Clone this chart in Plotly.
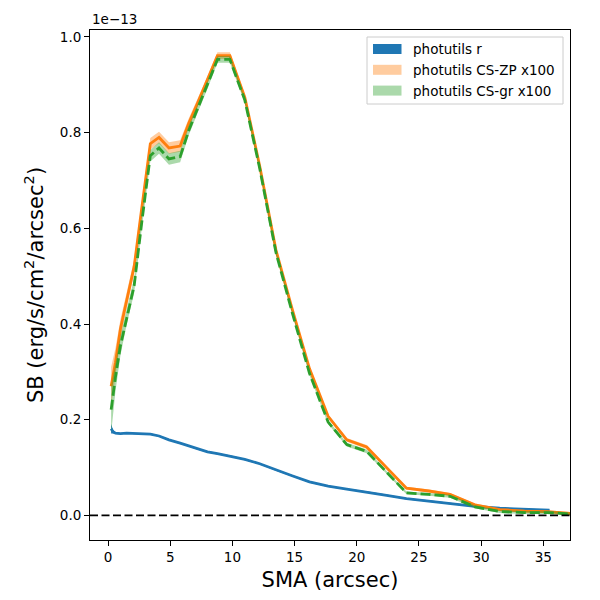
import numpy as np
import plotly.graph_objects as go

# SB values in units of 1e-13 erg/s/cm^2/arcsec^2
sma = [0.25, 0.6, 1.0, 1.5, 2.1, 2.7, 3.4, 4.1, 4.9, 5.8, 6.5, 7.2, 8.0, 8.8, 9.8,
       11.0, 12.2, 13.5, 14.8, 16.2, 17.7, 19.2, 20.8, 22.4, 24.0, 25.8, 27.5,
       29.5, 31.5, 33.5, 35.3, 37.15]
sb_zp = [0.27, 0.32, 0.39, 0.45, 0.52, 0.64, 0.777, 0.790, 0.768, 0.772, 0.82, 0.862,
         0.91, 0.961, 0.961, 0.874, 0.73, 0.555, 0.432, 0.307, 0.207, 0.158, 0.143,
         0.10, 0.057, 0.051, 0.044, 0.022, 0.012, 0.009, 0.008, 0.004]
err_zp = [0.04, 0.03, 0.02, 0.016, 0.015, 0.013, 0.012, 0.012, 0.012, 0.012, 0.01, 0.009,
          0.008, 0.007, 0.007, 0.006, 0.005, 0.005, 0.004, 0.004, 0.004, 0.004, 0.004,
          0.003, 0.003, 0.003, 0.003, 0.003, 0.003, 0.003, 0.003, 0.003]
sb_gr = [0.221, 0.29, 0.355, 0.415, 0.48, 0.61, 0.752, 0.768, 0.745, 0.750, 0.805, 0.85,
         0.90, 0.953, 0.953, 0.868, 0.725, 0.55, 0.425, 0.297, 0.195, 0.148, 0.134,
         0.09, 0.047, 0.044, 0.040, 0.018, 0.008, 0.006, 0.006, 0.003]
err_gr = [0.05, 0.03, 0.02, 0.016, 0.015, 0.013, 0.012, 0.012, 0.012, 0.012, 0.01, 0.009,
          0.008, 0.007, 0.007, 0.006, 0.005, 0.005, 0.004, 0.004, 0.004, 0.004, 0.004,
          0.003, 0.003, 0.003, 0.003, 0.003, 0.003, 0.003, 0.003, 0.003]

sma_r = [0.25, 0.4, 0.6, 1.0, 1.5, 2.1, 2.7, 3.4, 4.1, 4.9, 5.8, 6.5, 7.2, 8.0, 8.8,
         9.8, 11.0, 12.2, 13.5, 14.8, 16.2, 17.7, 19.2, 20.8, 22.4, 24.0, 25.8, 27.5,
         29.5, 31.5, 33.5, 35.5]
sb_r = [0.181, 0.175, 0.172, 0.171, 0.172, 0.171, 0.171, 0.170, 0.166, 0.158, 0.151,
        0.145, 0.139, 0.133, 0.129, 0.124, 0.117, 0.108, 0.095, 0.083, 0.070, 0.061,
        0.055, 0.049, 0.042, 0.035, 0.030, 0.025, 0.019, 0.015, 0.013, 0.011]
err_r = [0.01, 0.004, 0.002, 0.0015, 0.0015, 0.0015, 0.0015, 0.0015, 0.0015, 0.0015,
         0.0015, 0.0015, 0.0015, 0.0015, 0.0015, 0.0015, 0.0015, 0.0015, 0.0015, 0.0015,
         0.0015, 0.0015, 0.0015, 0.0015, 0.0015, 0.0015, 0.0015, 0.0015, 0.0015, 0.0015,
         0.0015, 0.0015]

series = [
    ("photutils r", sma_r, sb_r, err_r, "#1f77b4", "#1f77b4", "solid"),
    ("photutils CS-ZP x100", sma, sb_zp, err_zp, "#ff7f0e", "rgba(255,127,14,0.4)", "solid"),
    ("photutils CS-gr x100", sma, sb_gr, err_gr, "#2ca02c", "rgba(44,160,44,0.4)", "10px,4px"),
]

# 绘图区像素位置 (600x600)
L, R, T, B = 90, 570, 30, 540


def px(xp):
    return (xp - L) / (R - L)


def py(yp):
    return (B - yp) / (B - T)


fig = go.Figure()
for name, x, y, e, col, fcol, dash in series:
    x = np.array(x)
    y = np.array(y)
    e = np.array(e)
    # 误差带
    fig.add_trace(go.Scatter(
        x=np.concatenate([x, x[::-1]]),
        y=np.concatenate([y + e, (y - e)[::-1]]),
        fill="toself", fillcolor=fcol, mode="none", name=name,
        showlegend=False, hoverinfo="skip"))
    fig.add_trace(go.Scatter(
        x=x, y=y, mode="lines", showlegend=False,
        line=dict(color=col, width=2.8, dash=dash)))

fig.add_shape(type="line", xref="paper", x0=0, x1=1, yref="y", y0=0, y1=0,
              line=dict(color="black", width=1.8, dash="8px,3.5px"))

# 图例 (手动绘制, 色块样式同 matplotlib)
fig.add_shape(type="rect", xref="paper", yref="paper",
              x0=px(367), x1=px(563), y0=py(104), y1=py(37),
              line=dict(color="#cccccc", width=1), fillcolor="rgba(255,255,255,0.8)")
for i, (name, *_rest) in enumerate(series):
    fcol = series[i][5]
    yc = 49 + i * 20.8
    fig.add_shape(type="rect", xref="paper", yref="paper",
                  x0=px(373), x1=px(401.5), y0=py(yc + 5), y1=py(yc - 5),
                  line=dict(width=0), fillcolor=fcol)
    fig.add_annotation(text=name, xref="paper", yref="paper", x=px(411), y=py(yc),
                       xanchor="left", yanchor="middle", showarrow=False,
                       font=dict(size=13.5, color="black"))

axis_common = dict(showgrid=False, zeroline=False, showline=True, linecolor="black",
                   linewidth=1, mirror=True, ticks="outside", ticklen=5,
                   tickcolor="black", tickfont=dict(size=13.5, color="black"),
                   automargin=False)

fig.update_xaxes(range=[-1.45, 37.15], tickvals=[0, 5, 10, 15, 20, 25, 30, 35],
                 title=dict(text="SMA (arcsec)", font=dict(size=21, color="black"),
                            standoff=8),
                 **axis_common)
fig.update_yaxes(range=[-0.0514, 1.0146], tickvals=[0, 0.2, 0.4, 0.6, 0.8, 1.0],
                 tickformat=".1f",
                 title=dict(text="SB (erg/s/cm<sup>2</sup>/arcsec<sup>2</sup>)",
                            font=dict(size=21, color="black"), standoff=10),
                 **axis_common)

fig.add_annotation(text="1e\u221213", xref="paper", yref="paper", x=0, y=1,
                   xanchor="left", yanchor="bottom", showarrow=False, yshift=1,
                   font=dict(size=13.5, color="black"))

fig.update_layout(
    width=600, height=600,
    margin=dict(l=L, r=600 - R, t=T, b=600 - B),
    plot_bgcolor="white", paper_bgcolor="white",
    font=dict(family="DejaVu Sans", color="black"),
    showlegend=False,
)

fig.write_html("out.html", config={"displayModeBar": False},
               post_script="document.body.style.margin='0px';")
